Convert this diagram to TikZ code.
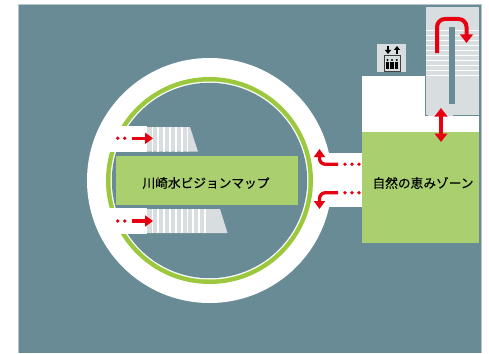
\documentclass[tikz,border=0pt]{standalone}
\usepackage{fontspec}
\newfontfamily\cjk[FakeBold=0.3]{Noto Sans CJK JP}
\usetikzlibrary{arrows.meta}
\definecolor{teal1}{HTML}{688B96}
\definecolor{zonegreen}{HTML}{A9CF6E}
\definecolor{ringgreen}{HTML}{9BC83C}
\definecolor{stairgray}{HTML}{D8DDE0}
\definecolor{redarrow}{HTML}{E60012}
\tikzset{
  x=1pt,y=-1pt,
  label text/.style={font=\cjk\fontsize{12.7}{15}\selectfont,text=black,inner sep=0pt},
  flow/.style={draw=redarrow,line width=3.3pt,-{Triangle[width=11pt,length=8pt]}},
  flowbig/.style={draw=redarrow,line width=4pt,-{Triangle[width=12.5pt,length=8.5pt]}},
  flow2/.style={draw=redarrow,line width=4pt,{Triangle[width=12.5pt,length=8.5pt]}-{Triangle[width=12.5pt,length=8.5pt]}},
  dot/.style={fill=redarrow,draw=none},
  steps/.style={draw=white,line width=1.7pt},
  pillar/.style={fill=teal1,draw=none},
}
\begin{document}
\begin{tikzpicture}
\useasboundingbox (0,0) rectangle (489,353);
\fill[white] (0,0) rectangle (489,353);
% ground
\fill[teal1] (18,4.5) rectangle (481,353);
\draw[color=stairgray!70!teal1,line width=.7pt] (18,353) -- (18,4.5) -- (481,4.5) -- (481,353);
% ring
\fill[white] (209.5,180.5) circle [radius=122.5];
\fill[white] (320,153) rectangle (362,207);
\fill[ringgreen] (209.5,180.5) circle [radius=103.5];
\fill[white] (209.5,180.5) circle [radius=99];
\fill[teal1] (209.5,180.5) circle [radius=97.7];
% left corridors
\fill[white] (106,126) rectangle (147,152);
\fill[white] (106,208) rectangle (147,234);
% stairs left
\fill[stairgray] (147,127) -- (190,127) -- (198,151.7) -- (147,151.7) -- cycle;
\fill[stairgray] (147,209) -- (220,209) -- (227.5,233) -- (147,233) -- cycle;
\foreach \x in {152.5,158.3,164.2,170,175.8,181.7,187.5}
  \draw[steps] (\x,127) -- (\x,151.7);
\foreach \x in {152.5,158.3,164.2,170,175.8,181.7,187.5,193.3,199.2,205}
  \draw[steps] (\x,209) -- (\x,233);
% map zone
\node[fill=zonegreen,minimum width=182pt,minimum height=48.5pt,inner sep=0pt,anchor=north west] (mapzone) at (116,156) {};
\node[label text] (maplabel) at (206,183) {川崎水ビジョンマップ};
% east
\fill[white] (362,76) rectangle (479,132);
\fill[stairgray] (425,7) rectangle (479,116);
\draw[teal1,line width=.8pt] (425,7) -- (425,115.5) -- (428,115.5);
\draw[teal1,line width=.8pt] (453,115.5) -- (479,115.5);
\foreach \y in {30.5,35.5,40.5,45.5,50.5,55.5,60.5,65.5,70.5,75.5}
  \draw[draw=white,line width=1.4pt] (425.5,\y) -- (479,\y);
\fill[pillar] (449,27) rectangle (454.5,104);
\node[fill=zonegreen,minimum width=117pt,minimum height=111pt,inner sep=0pt,anchor=north west] (naturezone) at (362,132) {};
\node[label text] (naturelabel) at (423,183) {自然の恵みゾーン};
% elevator icon
\fill[stairgray] (377,44) rectangle (406,72);
\draw[black,line width=1.2pt,-{Triangle[width=6pt,length=4pt]}] (388,46) -- (388,54);
\draw[black,line width=1.2pt,-{Triangle[width=6pt,length=4pt]}] (397,54) -- (397,46);
\draw[black!75,line width=.9pt] (384.5,55.5) rectangle (400,71);
\foreach \x in {387.5,392,396.7}{
  \fill[black] (\x,60) circle [radius=1.2];
  \fill[black] (\x-1.6,61.5) rectangle (\x+1.6,69);
}
% red arrows
\coordinate (ua) at (437,53);
\coordinate (ub) at (466.5,43);
\draw[flowbig,rounded corners=8pt] (ua) -- (437,19) -- (466.5,19) -- (ub);
\coordinate (da) at (441,108);
\coordinate (db) at (441,142);
\draw[flow2] (da) -- (db);
\coordinate (la) at (131.7,138.3);
\coordinate (lb) at (153,138.3);
\draw[flow] (la) -- (lb);
\coordinate (lc) at (131.7,221);
\coordinate (ld) at (153,221);
\draw[flow] (lc) -- (ld);
\foreach \x in {117.7,124.7}{
  \fill[dot] (\x,138.3) circle [radius=1.9];
  \fill[dot] (\x,221) circle [radius=1.9];
}
\coordinate (ra) at (338,164.3);
\coordinate (rb) at (319.5,149);
\draw[flow,rounded corners=6pt] (ra) -- (319.5,164.3) -- (rb);
\coordinate (rc) at (338,192.7);
\coordinate (rd) at (319.5,209);
\draw[flow,rounded corners=6pt] (rc) -- (319.5,192.7) -- (rd);
\foreach \x in {345,352,359}{
  \fill[dot] (\x,164.3) circle [radius=1.9];
  \fill[dot] (\x,192.7) circle [radius=1.9];
}
\end{tikzpicture}
\end{document}
